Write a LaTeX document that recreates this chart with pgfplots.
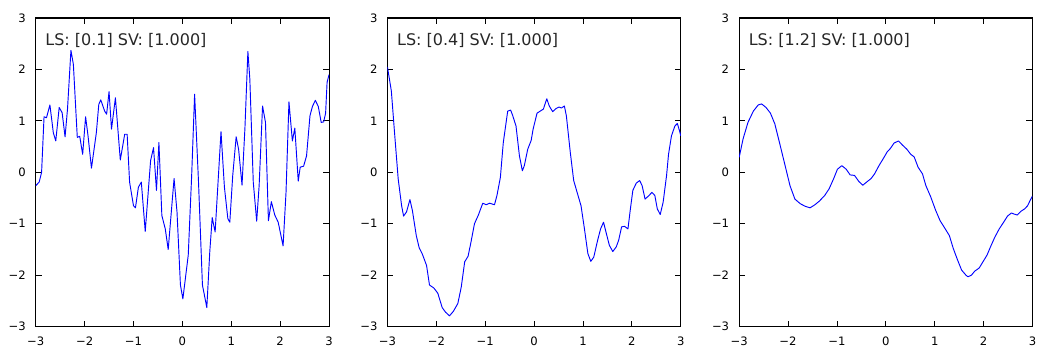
\documentclass[border=0pt]{standalone}
\usepackage{fontspec}
\setmainfont{DejaVu Sans}
\usepackage{pgfplots}
\usepackage{pgfplotstable}
\pgfplotsset{compat=1.18}

\pgfplotstableread{
x y
-3.00 -0.26
-2.93 -0.19
-2.88 0.00
-2.83 1.08
-2.78 1.06
-2.71 1.31
-2.64 0.77
-2.59 0.61
-2.52 1.26
-2.46 1.16
-2.40 0.69
-2.35 1.23
-2.28 2.37
-2.23 2.10
-2.15 0.68
-2.10 0.70
-2.04 0.35
-1.98 1.08
-1.93 0.71
-1.86 0.08
-1.76 0.77
-1.71 1.32
-1.67 1.41
-1.59 1.19
-1.55 1.13
-1.50 1.57
-1.45 0.84
-1.37 1.45
-1.27 0.24
-1.18 0.74
-1.13 0.74
-1.08 -0.19
-1.00 -0.65
-0.96 -0.69
-0.90 -0.29
-0.84 -0.19
-0.76 -1.15
-0.65 0.23
-0.59 0.48
-0.53 -0.35
-0.48 0.58
-0.42 -0.84
-0.35 -1.10
-0.29 -1.50
-0.17 -0.12
-0.11 -0.77
-0.04 -2.19
0.01 -2.46
0.12 -1.61
0.19 -0.06
0.25 1.52
0.33 -0.19
0.41 -2.19
0.50 -2.63
0.56 -1.55
0.61 -0.88
0.67 -1.16
0.79 0.79
0.86 -0.29
0.93 -0.90
0.97 -0.97
1.03 -0.06
1.10 0.69
1.15 0.45
1.22 -0.25
1.28 0.87
1.34 2.35
1.38 1.81
1.45 -0.19
1.52 -0.95
1.57 -0.26
1.64 1.29
1.70 0.97
1.76 -0.94
1.82 -0.57
1.89 -0.83
1.96 -0.97
2.06 -1.43
2.12 -0.39
2.18 1.37
2.25 0.61
2.30 0.86
2.37 -0.17
2.41 0.10
2.48 0.12
2.54 0.32
2.61 1.10
2.66 1.28
2.72 1.40
2.78 1.28
2.84 0.97
2.89 0.98
2.93 1.15
2.96 1.75
3.00 1.90
}\dataA

\pgfplotstableread{
x y
-3.00 2.05
-2.92 1.58
-2.85 0.71
-2.78 -0.13
-2.71 -0.65
-2.67 -0.85
-2.61 -0.77
-2.54 -0.53
-2.49 -0.74
-2.41 -1.23
-2.35 -1.47
-2.29 -1.58
-2.20 -1.81
-2.14 -2.19
-2.05 -2.25
-1.97 -2.35
-1.88 -2.63
-1.81 -2.72
-1.73 -2.79
-1.65 -2.70
-1.56 -2.55
-1.49 -2.23
-1.42 -1.74
-1.35 -1.63
-1.29 -1.35
-1.22 -1.00
-1.14 -0.83
-1.05 -0.60
-0.98 -0.63
-0.91 -0.60
-0.81 -0.63
-0.76 -0.45
-0.69 -0.10
-0.63 0.58
-0.54 1.19
-0.48 1.21
-0.44 1.11
-0.37 0.90
-0.30 0.32
-0.24 0.03
-0.20 0.13
-0.13 0.45
-0.06 0.62
-0.02 0.84
0.06 1.15
0.19 1.23
0.26 1.43
0.31 1.29
0.38 1.18
0.45 1.24
0.51 1.27
0.56 1.25
0.62 1.29
0.66 1.10
0.74 0.39
0.81 -0.16
0.88 -0.39
0.96 -0.65
1.03 -1.10
1.10 -1.58
1.16 -1.73
1.22 -1.65
1.30 -1.32
1.36 -1.10
1.42 -0.97
1.47 -1.16
1.54 -1.42
1.61 -1.54
1.68 -1.45
1.73 -1.32
1.79 -1.06
1.85 -1.05
1.92 -1.10
1.97 -0.71
2.02 -0.35
2.09 -0.21
2.16 -0.16
2.21 -0.26
2.27 -0.52
2.34 -0.46
2.41 -0.39
2.47 -0.45
2.52 -0.71
2.58 -0.82
2.64 -0.58
2.71 -0.06
2.75 0.35
2.81 0.71
2.88 0.90
2.93 0.95
2.98 0.79
3.00 0.71
}\dataB

\pgfplotstableread{
x y
-3.00 0.29
-2.92 0.65
-2.82 0.97
-2.71 1.19
-2.61 1.31
-2.54 1.33
-2.45 1.26
-2.36 1.15
-2.27 0.94
-2.16 0.52
-2.06 0.13
-1.96 -0.26
-1.86 -0.52
-1.75 -0.61
-1.65 -0.66
-1.55 -0.69
-1.45 -0.63
-1.36 -0.56
-1.25 -0.45
-1.16 -0.32
-1.07 -0.13
-0.99 0.06
-0.90 0.13
-0.81 0.06
-0.73 -0.05
-0.64 -0.06
-0.55 -0.18
-0.47 -0.25
-0.38 -0.18
-0.30 -0.12
-0.23 -0.03
-0.14 0.13
-0.05 0.27
0.03 0.40
0.09 0.46
0.17 0.57
0.26 0.61
0.34 0.53
0.43 0.45
0.51 0.35
0.58 0.30
0.66 0.10
0.75 -0.03
0.82 -0.26
0.92 -0.48
1.02 -0.74
1.11 -0.94
1.19 -1.06
1.30 -1.23
1.38 -1.48
1.47 -1.71
1.55 -1.90
1.64 -2.00
1.68 -2.03
1.75 -2.00
1.82 -1.92
1.91 -1.86
1.98 -1.75
2.07 -1.61
2.15 -1.43
2.23 -1.26
2.32 -1.10
2.41 -0.97
2.49 -0.85
2.57 -0.79
2.62 -0.81
2.69 -0.83
2.76 -0.76
2.84 -0.71
2.90 -0.65
2.95 -0.55
3.00 -0.46
}\dataC

\pgfplotsset{
  panel/.style={
    scale only axis,
    width=220pt, height=231.5pt,
    xmin=-3, xmax=3, ymin=-3, ymax=3,
    xtick={-3,-2,-1,0,1,2,3},
    ytick={-3,-2,-1,0,1,2,3},
    xticklabels={−3,−2,−1,0,1,2,3},
    yticklabels={−3,−2,−1,0,1,2,3},
    tick align=inside,
    major tick length=4.5pt,
    tick style={black, line width=0.6pt},
    axis line style={black, line width=0.8pt},
    ticklabel style={font=\fontsize{8.7}{10}\selectfont, text=black},
    xticklabel style={yshift=-4.5pt},
    yticklabel style={xshift=-4pt},
    anchor=south west,
  },
  curve/.style={blue, line width=0.7pt, line join=round},
}
\tikzset{
  ann/.style={anchor=base west, inner sep=0pt, font=\fontsize{12}{14}\selectfont, text=black!85},
}

\begin{document}
\begin{tikzpicture}
\path[use as bounding box] (-26.8pt,-15.2pt) rectangle (751pt,245pt);
\begin{axis}[panel, at={(0pt,0pt)}]
\addplot[curve] table[x=x,y=y] {\dataA};
\node[ann] at (rel axis cs:0.032,0.9125) {LS: [0.1] SV: [1.000]};
\end{axis}
\begin{axis}[panel, at={(263.8pt,0pt)}]
\addplot[curve] table[x=x,y=y] {\dataB};
\node[ann] at (rel axis cs:0.032,0.9125) {LS: [0.4] SV: [1.000]};
\end{axis}
\begin{axis}[panel, at={(527.6pt,0pt)}]
\addplot[curve] table[x=x,y=y] {\dataC};
\node[ann] at (rel axis cs:0.032,0.9125) {LS: [1.2] SV: [1.000]};
\end{axis}
\end{tikzpicture}
\end{document}
